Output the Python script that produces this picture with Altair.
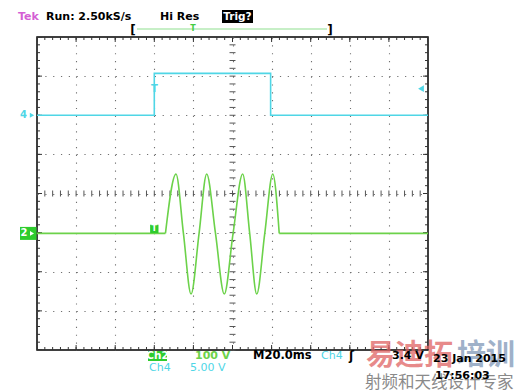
import altair as alt
import pandas as pd

# ---------------- data (time in ms, level in screen divisions) ----------------
# Ch4 (cyan) gate pulse
ch4_t = [-100, -40, -40, 19.5, 19.5, 100]
ch4_v = [2.0, 2.0, 3.07, 3.07, 2.0, 2.0]

# Ch2 (green) RF burst: points read at start, peaks, crossings, troughs, end
ch2_t = [-100, -34.3,
         -34.3, -28.9, -25.1, -21.2, -17.1, -13.2, -8.7, -4.2, 0.3, 5.2, 8.8, 12.4, 16.5, 20.6, 23.9,
         23.9, 100]
ch2_v = [-1.02, -1.02,
         -1.02, 0.50, -1.02, -2.57, -1.02, 0.50, -1.02, -2.57, -1.02, 0.50, -1.02, -2.57, -1.02, 0.50, -1.02,
         -1.02, -1.02]
ch2_seg = ["pre", "pre"] + ["wave"] * 15 + ["post", "post"]

trig_time = -40        # ms
trig_level = 2.68      # div (3.4 V on Ch4)

# graticule
grid_x = [-80, -60, -40, -20, 0, 20, 40, 60, 80]
grid_y = [-3, -2, -1, 0, 1, 2, 3]
minor_x = [-100 + 4 * i for i in range(51)]
minor_y = [round(-4 + 0.2 * i, 2) for i in range(41)]
major_x = [-100 + 20 * i for i in range(11)]
major_y = [-4 + i for i in range(9)]

GREEN = "#6cd24a"
GREENBOX = "#2ecc2e"
CYAN = "#4fd6e6"
FONT = "DejaVu Sans"

xs = alt.Scale(domain=[-100, 100], nice=False, zero=False)
ys = alt.Scale(domain=[-4, 4], nice=False, zero=False)
xaxis = alt.Axis(values=grid_x, grid=True, labels=False, ticks=False, domain=False, title=None,
                 gridColor="#707070", gridDash=[1.2, 6.62], gridWidth=1.1)
yaxis = alt.Axis(values=grid_y, grid=True, labels=False, ticks=False, domain=False, title=None,
                 gridColor="#707070", gridDash=[1.2, 6.62], gridWidth=1.1)


def X(field=None, datum=None):
    if datum is not None:
        return alt.X(datum=datum, type="quantitative", scale=xs, axis=xaxis)
    return alt.X(field, type="quantitative", scale=xs, axis=xaxis)


def Y(field=None, datum=None):
    if datum is not None:
        return alt.Y(datum=datum, type="quantitative", scale=ys, axis=yaxis)
    return alt.Y(field, type="quantitative", scale=ys, axis=yaxis)


one = pd.DataFrame({"k": [0]})

layers = []

ch4_df = pd.DataFrame({"t": ch4_t, "v": ch4_v, "i": list(range(len(ch4_t)))})
ch2_df = pd.DataFrame({"t": ch2_t, "v": ch2_v, "seg": ch2_seg, "i": list(range(len(ch2_t)))})

# ticks
mx = pd.DataFrame({"x": minor_x})
my = pd.DataFrame({"y": minor_y})
Mx = pd.DataFrame({"x": major_x})
My = pd.DataFrame({"y": major_y})
TICK = "#333333"
for yv in (4, -4):
    layers.append(alt.Chart(mx).mark_tick(orient="vertical", size=6, thickness=1, clip=True, color=TICK, opacity=1)
                  .encode(x=X("x"), y=Y(datum=yv)))
    layers.append(alt.Chart(Mx).mark_tick(orient="vertical", size=10, thickness=1, clip=True, color=TICK, opacity=1)
                  .encode(x=X("x"), y=Y(datum=yv)))
for xv in (-100, 100):
    layers.append(alt.Chart(my).mark_tick(orient="horizontal", size=6, thickness=1, clip=True, color=TICK, opacity=1)
                  .encode(y=Y("y"), x=X(datum=xv)))
    layers.append(alt.Chart(My).mark_tick(orient="horizontal", size=10, thickness=1, clip=True, color=TICK, opacity=1)
                  .encode(y=Y("y"), x=X(datum=xv)))
# centre cross ticks
layers.append(alt.Chart(mx).mark_tick(orient="vertical", size=6, thickness=1, color="#555555", opacity=1)
              .encode(x=X("x"), y=Y(datum=0)))
layers.append(alt.Chart(my).mark_tick(orient="horizontal", size=6, thickness=1, color="#555555", opacity=1)
              .encode(y=Y("y"), x=X(datum=0)))

# traces
layers.append(alt.Chart(ch4_df).mark_line(color=CYAN, strokeWidth=1.6, clip=True)
              .encode(x=X("t"), y=Y("v"), order="i:Q"))
layers.append(alt.Chart(ch2_df).mark_line(color=GREEN, strokeWidth=1.6, interpolate="monotone", clip=True)
              .encode(x=X("t"), y=Y("v"), detail="seg:N", order="i:Q"))

# trigger markers on traces
layers.append(alt.Chart(one).mark_square(color=GREENBOX, size=70, opacity=1, yOffset=-4.5)
              .encode(x=X(datum=trig_time), y=Y(datum=ch2_v[0])))
layers.append(alt.Chart(one).mark_text(text="T", color="white", fontSize=8, font=FONT, fontWeight="bold", yOffset=-4.5)
              .encode(x=X(datum=trig_time), y=Y(datum=ch2_v[0])))
layers.append(alt.Chart(one).mark_text(text="T", color=CYAN, fontSize=10, font=FONT, fontWeight="bold")
              .encode(x=X(datum=trig_time), y=Y(datum=trig_level)))
layers.append(alt.Chart(one).mark_point(shape="triangle-left", filled=True, color=CYAN, size=45, opacity=1, xOffset=-7)
              .encode(x=X(datum=100), y=Y(datum=trig_level)))

# channel markers on the left
layers.append(alt.Chart(one).mark_text(text="4", color=CYAN, fontSize=10, font=FONT, fontWeight="bold")
              .encode(x=alt.value(-13.5), y=Y(datum=ch4_v[0])))
layers.append(alt.Chart(one).mark_point(shape="triangle-right", filled=True, color=CYAN, size=25, opacity=1)
              .encode(x=alt.value(-5), y=Y(datum=ch4_v[0])))
layers.append(alt.Chart(one).mark_rect(color=GREENBOX, yOffset=-6.5, y2Offset=6.5)
              .encode(x=alt.value(-17), x2=alt.value(-0.5), y=Y(datum=ch2_v[0]),
                      y2=alt.Y2(datum=ch2_v[0])))
layers.append(alt.Chart(one).mark_text(text="2", color="white", fontSize=10, font=FONT, fontWeight="bold")
              .encode(x=alt.value(-13), y=Y(datum=ch2_v[0])))
layers.append(alt.Chart(one).mark_point(shape="triangle-right", filled=True, color="white", size=22, opacity=1)
              .encode(x=alt.value(-5), y=Y(datum=ch2_v[0])))


def label(text, x, y, color="black", size=11, align="left", weight="bold", font=FONT, opacity=1):
    return (alt.Chart(one)
            .mark_text(text=text, color=color, fontSize=size, align=align, baseline="middle",
                       fontWeight=weight, font=font, opacity=opacity)
            .encode(x=alt.value(x), y=alt.value(y)))


def box(x, x2, y, y2, color):
    return alt.Chart(one).mark_rect(color=color).encode(
        x=alt.value(x), x2=alt.value(x2), y=alt.value(y), y2=alt.value(y2))


# watermark (drawn under the status text)
CJK = "Noto Sans CJK SC"
layers.append(label("易迪拓", 329, 319, color="#e06464", size=29, font=CJK, opacity=0.75))
layers.append(label("培训", 420, 319, color="#7f98b8", size=29, font=CJK, opacity=0.75))
layers.append(label("射频和天线设计专家", 328, 346, color="#8a8a8a", size=16.5, weight="normal", font=CJK))

# header
layers.append(label("Tek", -19, -20, color="#d45fd4"))
layers.append(label("Run: 2.50kS/s", 9, -20))
layers.append(label("Hi Res", 123, -20))
layers.append(box(185, 216, -27, -14, "black"))
layers.append(label("Trig?", 200.5, -20.5, color="white", align="center", size=10.5))
layers.append(box(100, 290, -8.5, -7.5, "#8fe08f"))
layers.append(label("[", 96, -7, align="center", size=12))
layers.append(label("]", 293, -7, align="center", size=12))
layers.append(label("T", 156, -8, color="#44cc44", align="center", size=8))

# footer
layers.append(box(111, 130, 314, 324, GREENBOX))
layers.append(label("Ch2", 120.5, 319, color="white", align="center", size=10.5))
layers.append(label("100 V", 158, 319, color=GREEN, size=11))
layers.append(label("M20.0ms", 216, 319, size=11.5))
layers.append(label("Ch4", 284, 319, color=CYAN, size=11, weight="normal"))
layers.append(label("ʃ", 312, 319, size=12))
layers.append(label("3.4 V", 355, 319, size=11))
layers.append(label("23 Jan 2015", 396, 322, size=11))
layers.append(label("Ch4", 112, 331, color=CYAN, size=11, weight="normal"))
layers.append(label("5.00 V", 153, 331, color=CYAN, size=11, weight="normal"))
layers.append(label("17:56:03", 398, 339, size=11))

chart = (alt.layer(*layers)
         .properties(width=391, height=313,
                     autosize=alt.AutoSizeParams(type="none"),
                     padding={"left": 37, "top": 37, "right": 91, "bottom": 41},
                     background="white")
         .configure_view(stroke="black", strokeWidth=1.5))

chart.save("out.html", embed_options={"renderer": "svg", "actions": False})
